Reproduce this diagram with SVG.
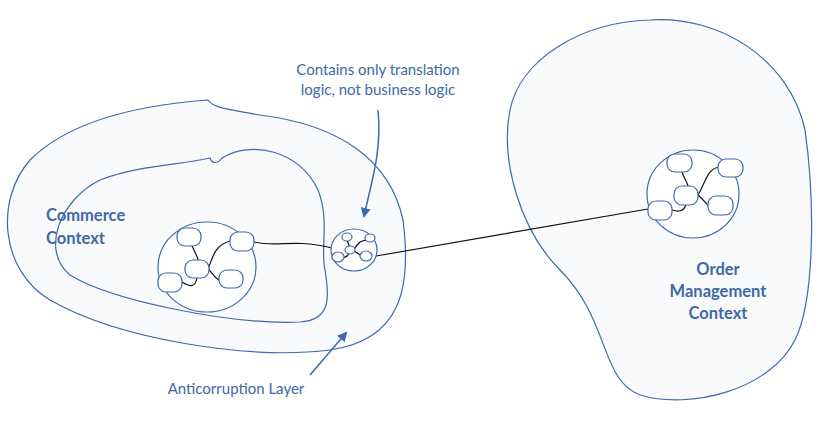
<svg xmlns="http://www.w3.org/2000/svg" width="827" height="433" viewBox="0 0 827 433">
<style>
.b{fill:#f8fafb;stroke:#3d69ad;stroke-width:1.2}
.n{fill:#fff;stroke:#3d69ad;stroke-width:1.2}
.c{fill:none;stroke:#111;stroke-width:1.2}
.t{font-family:"Lato","Liberation Sans",sans-serif;fill:#4069a6;font-size:15px}
.tb{font-family:"Lato","Liberation Sans",sans-serif;fill:#4069a6;font-size:16.5px;font-weight:bold}
.a{fill:none;stroke:#3d69ad;stroke-width:1.5}
</style>
<defs><marker id="ah" markerWidth="10" markerHeight="10" refX="8" refY="5" orient="auto" markerUnits="userSpaceOnUse"><path d="M0,0 L10,5 L0,10 z" fill="#3d69ad"/></marker></defs>
<rect width="827" height="433" fill="#fff"/>
<g id="commerce">
<path class="b" d="M208,100 C212,106 218,108 260,115 C340,125 390,160 403,220 C412,290 400,340 330,350 C250,360 120,340 50,300 C0,270 -5,200 30,160 C70,120 140,105 208,100 Z"/>
<path class="b" d="M210,158 C212,164 218,164 222,158 C250,140 300,150 318,190 C330,220 320,250 325,270 C330,300 330,320 300,322 C230,325 110,300 70,275 C40,250 60,200 100,180 C140,165 180,165 210,158 Z"/>
<text class="tb" x="46" y="221">Commerce</text>
<text class="tb" x="46" y="244">Context</text>
</g>
<g id="order">
<path class="b" d="M650,20 C720,15 790,60 805,130 C815,200 815,300 795,340 C770,390 690,410 640,395 C600,380 610,320 560,270 C520,230 500,160 510,110 C520,60 580,22 650,20 Z"/>
<text class="tb" x="718" y="275" text-anchor="middle">Order</text>
<text class="tb" x="718" y="297" text-anchor="middle">Management</text>
<text class="tb" x="718" y="319" text-anchor="middle">Context</text>
</g>
<g id="connectors">
<path class="c" d="M254,242 C280,248 290,238 332,248"/>
<path class="c" d="M376,256 L648,209"/>
<path class="a" d="M378,110 C382,150 372,180 364,216" marker-end="url(#ah)"/>
<path class="a" d="M310,375 L346,333" marker-end="url(#ah)"/>
</g>
<g id="cluster-left">
<ellipse class="n" cx="207" cy="267" rx="49" ry="45"/>
<path class="c" d="M192,246 C195,252 198,258 198,260 M208,269 C212,260 214,245 230,241 M208,269 C214,274 215,280 222,281 M197,278 C195,288 190,287 182,282"/>
<rect class="n" x="177" y="228" width="24" height="18" rx="8"/>
<rect class="n" x="230" y="232" width="24" height="19" rx="8"/>
<rect class="n" x="185" y="260" width="24" height="18" rx="8"/>
<rect class="n" x="158" y="273" width="24" height="19" rx="8"/>
<rect class="n" x="219" y="270" width="24" height="18" rx="8"/>
</g>
<g id="acl">
<ellipse class="n" cx="354" cy="250" rx="23" ry="21"/>
<path class="c" d="M347,240 L350,248 M354,249 C358,244 360,240 368,240 M354,251 L362,256 M349,253 C347,258 344,258 341,257"/>
<ellipse class="n" cx="347" cy="237" rx="5" ry="4"/>
<ellipse class="n" cx="370" cy="238" rx="5" ry="4"/>
<ellipse class="n" cx="350" cy="250" rx="5" ry="4"/>
<ellipse class="n" cx="338" cy="257" rx="6" ry="5"/>
<ellipse class="n" cx="366" cy="256" rx="6" ry="5"/>
</g>
<g id="cluster-right">
<ellipse class="n" cx="693" cy="194" rx="46" ry="44"/>
<path class="c" d="M682,172 C684,178 688,184 688,186 M698,195 C706,182 706,170 719,167 M698,195 C704,200 708,206 710,207 M686,204 C684,212 678,212 672,210"/>
<rect class="n" x="667" y="154" width="25" height="18" rx="8"/>
<rect class="n" x="718" y="159" width="25" height="18" rx="8"/>
<rect class="n" x="674" y="186" width="24" height="19" rx="8"/>
<rect class="n" x="648" y="201" width="24" height="19" rx="8"/>
<rect class="n" x="708" y="196" width="25" height="19" rx="8"/>
</g>
<g id="notes">
<text class="t" x="378" y="75" text-anchor="middle">Contains only translation</text>
<text class="t" x="378" y="95" text-anchor="middle">logic, not business logic</text>
<text class="t" x="236" y="394" text-anchor="middle">Anticorruption Layer</text>
</g>
</svg>
